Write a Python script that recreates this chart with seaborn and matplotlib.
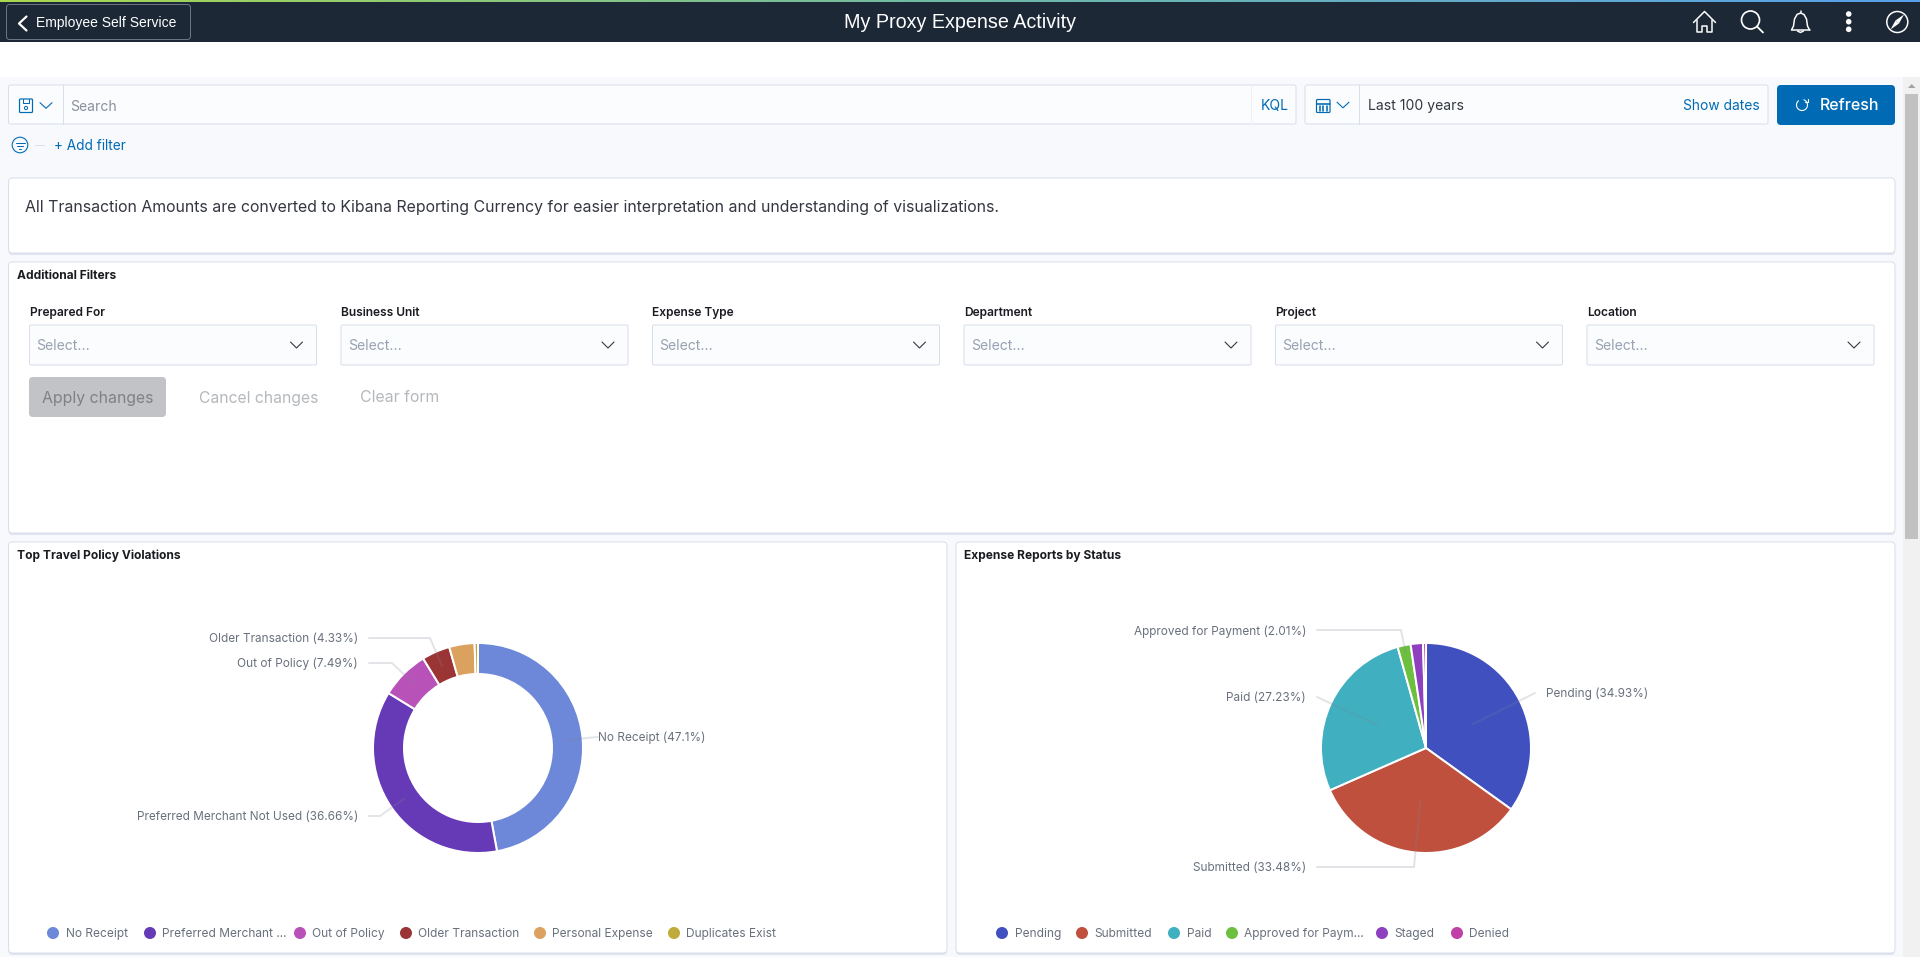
import matplotlib

matplotlib.use("Agg")
import matplotlib.pyplot as plt
import numpy as np
import seaborn as sns
from matplotlib.colors import LinearSegmentedColormap
from matplotlib.patches import Circle, FancyBboxPatch, Polygon, Rectangle

WIDTH = 1920
HEIGHT = 957
PX = 0.72  # points per pixel at dpi 100

VIOLATION_NAMES = ["No Receipt", "Preferred Merchant Not Used", "Out of Policy",
                   "Older Transaction", "Personal Expense", "Duplicates Exist"]
VIOLATION_SHARES = [47.1, 36.66, 7.49, 4.33, 3.9, 0.52]
VIOLATION_COLORS = ["#6d87d9", "#663ab7", "#b852b8", "#9b3434", "#dba15e", "#bfab3a"]
VIOLATION_LEGEND = ["No Receipt", "Preferred Merchant ...", "Out of Policy",
                    "Older Transaction", "Personal Expense", "Duplicates Exist"]
VIOLATION_LABELLED = [0, 1, 2, 3]

STATUS_NAMES = ["Pending", "Submitted", "Paid", "Approved for Payment", "Staged", "Denied"]
STATUS_SHARES = [34.93, 33.48, 27.23, 2.01, 1.9, 0.45]
STATUS_COLORS = ["#4050bf", "#bf503e", "#40afbf", "#6dbf40", "#8f40bf", "#bf40a6"]
STATUS_LEGEND = ["Pending", "Submitted", "Paid", "Approved for Paym...", "Staged", "Denied"]
STATUS_LABELLED = [0, 1, 2, 3]

FILTER_FIELDS = ["Prepared For", "Business Unit", "Expense Type", "Department", "Project", "Location"]

# layout only, in screen pixels
DONUT_CENTER = (478, 748)
PIE_CENTER = (1426, 748)
RADIUS = 105
DONUT_HOLE = 74
DONUT_LEADERS = [
    dict(reach=0.85, elbow=(598, 737), stop=598, text=(598, 737), ha="left"),
    dict(reach=0.85, elbow=(380, 816), stop=369, text=(358, 816), ha="right"),
    dict(reach=0.85, elbow=(392, 663), stop=369, text=(358, 663), ha="right"),
    dict(reach=0.85, elbow=(430, 638), stop=369, text=(358, 638), ha="right"),
]
PIE_LEADERS = [
    dict(reach=0.5, elbow=(1535, 693), stop=1535, text=(1546, 693), ha="left"),
    dict(reach=0.5, elbow=(1414, 867), stop=1317, text=(1306, 867), ha="right"),
    dict(reach=0.5, elbow=(1317, 697), stop=1317, text=(1306, 697), ha="right"),
    dict(reach=0.93, elbow=(1401, 630), stop=1317, text=(1306, 631), ha="right"),
]
DONUT_LEGEND_X = [53, 150, 300, 406, 540, 674]
PIE_LEGEND_X = [1002, 1082, 1174, 1232, 1382, 1457]
LEGEND_Y = 933

NAVY = "#1c2836"
BLUE = "#006bb4"
BORDER = "#d9dfea"
LABEL = "#69707d"
INK = "#1a1c21"

sns.set_theme(style="white")
plt.rcParams["font.family"] = ["Inter", "DejaVu Sans"]


def put_text(ax, x, y, text, size, color=INK, ha="left", **kwargs):
    return ax.text(x, y + 1, text, fontsize=size * PX, color=color, ha=ha, va="center", **kwargs)


def rounded(ax, x0, y0, x1, y1, face, edge="none", radius=4, lw=1.0, zorder=2):
    box = FancyBboxPatch((x0 + radius, y0 + radius), x1 - x0 - 2 * radius, y1 - y0 - 2 * radius,
                         boxstyle=f"round,pad={radius},rounding_size={radius}",
                         facecolor=face, edgecolor=edge, linewidth=lw * PX, zorder=zorder)
    ax.add_patch(box)


def panel(ax, x0, y0, x1, y1):
    rounded(ax, x0, y0 + 2, x1, y1 + 2, "#dfe4ee", zorder=1)
    rounded(ax, x0, y0, x1, y1, "white", BORDER, zorder=2)


def stroke(ax, xs, ys, color, lw=1.5, zorder=4, **kwargs):
    ax.plot(xs, ys, color=color, linewidth=lw * PX, zorder=zorder,
            solid_capstyle="round", solid_joinstyle="round", **kwargs)


def chevron(ax, x, y, half, drop, color, lw=1.1):
    stroke(ax, [x - half, x, x + half], [y - drop, y + drop, y - drop], color, lw)


def draw_header(ax):
    ax.add_patch(Rectangle((0, 0), WIDTH, 42, facecolor=NAVY, edgecolor="none", zorder=1))
    strip = np.linspace(0, 1, 256).reshape(1, -1)
    strip_map = LinearSegmentedColormap.from_list("strip", ["#a9d84e", "#6fb9a6", "#58a0ea"])
    ax.imshow(strip, cmap=strip_map, extent=(0, WIDTH, 2, 0), aspect="auto", zorder=2)
    ax.set_xlim(0, WIDTH)
    ax.set_ylim(HEIGHT, 0)

    rounded(ax, 6.5, 4.5, 190.5, 39.5, NAVY, "#6b7480", radius=3)
    stroke(ax, [26.5, 19, 26.5], [16.5, 23.5, 30.5], "white", 2.2)
    put_text(ax, 36, 22, "Employee Self Service", 13.9, "white", family="Liberation Sans")
    put_text(ax, 960, 22, "My Proxy Expense Activity", 19.8, "white", ha="center", family="Liberation Sans")

    # home
    stroke(ax, [1693.5, 1704.5, 1715.5], [22.5, 11.5, 22.5], "white")
    stroke(ax, [1697, 1697, 1702, 1702, 1707, 1707, 1712, 1712],
           [20, 32, 32, 25.5, 25.5, 32, 32, 20], "white")
    # search
    ax.add_patch(Circle((1750.5, 20), 9, facecolor="none", edgecolor="white", linewidth=1.7 * PX, zorder=4))
    stroke(ax, [1757, 1763], [26.5, 32.5], "white", 1.8)
    # bell
    stroke(ax, [1791.5, 1793.5, 1794.5, 1797, 1800.5, 1804, 1806.5, 1807.5, 1809.5],
           [30, 26, 19, 14.5, 13, 14.5, 19, 26, 30], "white")
    stroke(ax, [1791.5, 1809.5], [30, 30], "white")
    stroke(ax, [1800.5, 1800.5], [10.5, 13], "white")
    stroke(ax, [1797.5, 1800.5, 1803.5], [31, 32.5, 31], "white")
    # dots
    for y in [14, 21.7, 29.3]:
        ax.add_patch(Circle((1848.7, y), 2.8, facecolor="white", edgecolor="none", zorder=4))
    # compass
    ax.add_patch(Circle((1897.3, 22), 10.5, facecolor="none", edgecolor="white", linewidth=1.5 * PX, zorder=4))
    ax.add_patch(Polygon([(1904, 14.5), (1899, 23.5), (1895.5, 20.5)], facecolor="white", edgecolor="none", zorder=4))
    ax.add_patch(Polygon([(1890.5, 29.5), (1895.5, 20.5), (1899, 23.5)], facecolor="white", edgecolor="none", zorder=4))


def draw_query_bar(ax):
    ax.add_patch(Rectangle((0, 77), 1903, HEIGHT - 77, facecolor="#f8f9fd", edgecolor="none", zorder=0))

    rounded(ax, 8.5, 85, 1296, 124, "#fbfcfd", BORDER, radius=2)
    stroke(ax, [62.5, 62.5], [85, 124], BORDER, 1)
    stroke(ax, [1251, 1251], [85, 124], "#eef1f6", 1)
    rounded(ax, 19.5, 99, 32.5, 112.5, "none", BLUE, radius=1, lw=1.2, zorder=4)
    stroke(ax, [23, 23, 29, 29], [99, 103, 103, 99], BLUE, 1)
    ax.add_patch(Circle((26, 108), 1.6, facecolor="none", edgecolor=BLUE, linewidth=1 * PX, zorder=4))
    chevron(ax, 46, 105.5, 6, 2.8, BLUE)
    put_text(ax, 70, 106, "Search", 14, "#8a919e")
    put_text(ax, 1261, 105, "KQL", 14, BLUE)

    rounded(ax, 1305, 85, 1768, 124, "#fbfcfd", BORDER, radius=2)
    stroke(ax, [1359, 1359], [85, 124], BORDER, 1)
    rounded(ax, 1316.5, 99.5, 1330, 112.5, "none", BLUE, radius=1, lw=1.2, zorder=4)
    stroke(ax, [1316.5, 1330], [103.5, 103.5], BLUE, 1.6)
    for x in [1319.5, 1323.2, 1327]:
        stroke(ax, [x, x], [106, 110.5], BLUE, 1.6)
    chevron(ax, 1343, 105, 6, 2.8, BLUE)
    put_text(ax, 1368, 105, "Last 100 years", 14, "#343741")
    put_text(ax, 1760, 105, "Show dates", 13.8, BLUE, ha="right")

    rounded(ax, 1777, 85, 1895, 125, BLUE, radius=4)
    arc = np.radians(np.linspace(20, 320, 40))
    stroke(ax, 1802 + 5.5 * np.sin(arc), 105 - 5.5 * np.cos(arc), "white", 1.1)
    stroke(ax, [1804.5, 1807.5, 1807.5], [102, 102, 99], "white", 1.1)
    put_text(ax, 1820, 104, "Refresh", 16, "white", weight="medium")

    # filter row
    ax.add_patch(Circle((20, 145), 7.8, facecolor="none", edgecolor=BLUE, linewidth=1.1 * PX, zorder=4))
    for half, y in [(4.5, 142.5), (3, 145.5), (1.2, 148.5)]:
        stroke(ax, [20 - half, 20 + half], [y, y], BLUE, 1)
    stroke(ax, [34.5, 44], [145, 145], BORDER, 1)
    put_text(ax, 54, 145, "+ Add filter", 13.6, BLUE)

    # page scrollbar
    ax.add_patch(Rectangle((1903, 77), 17, HEIGHT - 77, facecolor="#f1f1f1", edgecolor="none", zorder=1))
    ax.add_patch(Rectangle((1905, 94), 13, 445, facecolor="#c1c1c1", edgecolor="none", zorder=2))
    ax.add_patch(Polygon([(1908, 88), (1915.5, 88), (1911.7, 84)], facecolor="#a3a3a3", edgecolor="none", zorder=2))


def draw_filters(ax):
    panel(ax, 8.5, 178, 1895, 253)
    put_text(ax, 25, 206.5, "All Transaction Amounts are converted to Kibana Reporting Currency "
             "for easier interpretation and understanding of visualizations.", 15.85, "#343741")

    panel(ax, 8.5, 262, 1895, 533)
    put_text(ax, 17, 275, "Additional Filters", 12, INK, weight="bold")
    for index, field in enumerate(FILTER_FIELDS):
        left = 29.5 + 311.5 * index
        put_text(ax, left, 312, field, 12, INK, weight="semibold")
        rounded(ax, left, 325, left + 287, 365, "#fbfcfd", BORDER, radius=1.5)
        put_text(ax, left + 7, 345, "Select...", 14, "#98a2b3")
        chevron(ax, left + 267, 345, 6, 3, "#343741")
    rounded(ax, 29, 377, 166, 417, "#c2c3c6", radius=4)
    put_text(ax, 42, 397, "Apply changes", 15.8, "#808184")
    put_text(ax, 199, 397, "Cancel changes", 15.7, "#b5b8bc")
    put_text(ax, 360.5, 397, "Clear form", 15.8, "#b5b8bc")


def draw_chart(fig, canvas, center, shares, names, colors, labelled, leaders, hole=None):
    # pie axes sits over the canvas, matplotlib pads the pie by 1.25 radius
    side = 2.5 * RADIUS
    ax = fig.add_axes([(center[0] - side / 2) / WIDTH, 1 - (center[1] + side / 2) / HEIGHT,
                       side / WIDTH, side / HEIGHT], zorder=3)
    ax.patch.set_alpha(0)
    wedge_style = dict(edgecolor="white", linewidth=2 * PX)
    if hole is not None:
        wedge_style["width"] = 1 - hole / RADIUS
    ax.pie(shares, colors=sns.color_palette(colors), startangle=90, counterclock=False,
           normalize=True, wedgeprops=wedge_style)

    # leaders start from the middle of each slice
    overlay = fig.add_axes([0, 0, 1, 1], zorder=4)
    overlay.set_axis_off()
    overlay.patch.set_alpha(0)
    overlay.set_xlim(0, WIDTH)
    overlay.set_ylim(HEIGHT, 0)
    edges = np.cumsum([0] + list(shares)) / np.sum(shares)
    for slice_index, leader in zip(labelled, leaders):
        angle = 2 * np.pi * (edges[slice_index] + edges[slice_index + 1]) / 2
        start_x = center[0] + leader["reach"] * RADIUS * np.sin(angle)
        start_y = center[1] - leader["reach"] * RADIUS * np.cos(angle)
        elbow_x, elbow_y = leader["elbow"]
        overlay.plot([start_x, elbow_x, leader["stop"]], [start_y, elbow_y, elbow_y],
                     color="#7d8593", alpha=0.22, linewidth=2 * PX, solid_joinstyle="miter")
        text_x, text_y = leader["text"]
        share_text = f"{shares[slice_index]:.2f}".rstrip("0")
        put_text(overlay, text_x, text_y, f"{names[slice_index]} ({share_text}%)", 11.8, LABEL, ha=leader["ha"])


def draw_legend(ax, xs, names, colors):
    sns.scatterplot(x=xs, y=[LEGEND_Y] * len(xs), hue=names, palette=dict(zip(names, colors)),
                    s=75, linewidth=0, legend=False, ax=ax, zorder=4)
    for x, name in zip(xs, names):
        put_text(ax, x + 12.5, LEGEND_Y, name, 11.95, LABEL)


def main() -> None:
    fig = plt.figure(figsize=(WIDTH / 100, HEIGHT / 100), dpi=100, facecolor="white")
    canvas = fig.add_axes([0, 0, 1, 1], zorder=1)
    canvas.set_axis_off()
    canvas.set_xlim(0, WIDTH)
    canvas.set_ylim(HEIGHT, 0)

    draw_header(canvas)
    draw_query_bar(canvas)
    draw_filters(canvas)

    panel(canvas, 8.5, 542, 947, 953)
    put_text(canvas, 17, 555, "Top Travel Policy Violations", 12, INK, weight="bold")
    draw_legend(canvas, DONUT_LEGEND_X, VIOLATION_LEGEND, VIOLATION_COLORS)

    panel(canvas, 956, 542, 1895, 953)
    put_text(canvas, 964.5, 555, "Expense Reports by Status", 12, INK, weight="bold")
    draw_legend(canvas, PIE_LEGEND_X, STATUS_LEGEND, STATUS_COLORS)

    canvas.set_xlim(0, WIDTH)
    canvas.set_ylim(HEIGHT, 0)

    draw_chart(fig, canvas, DONUT_CENTER, VIOLATION_SHARES, VIOLATION_NAMES, VIOLATION_COLORS,
               VIOLATION_LABELLED, DONUT_LEADERS, hole=DONUT_HOLE)
    draw_chart(fig, canvas, PIE_CENTER, STATUS_SHARES, STATUS_NAMES, STATUS_COLORS,
               STATUS_LABELLED, PIE_LEADERS)

    fig.savefig("out.png", dpi=100)


if __name__ == "__main__":
    main()
